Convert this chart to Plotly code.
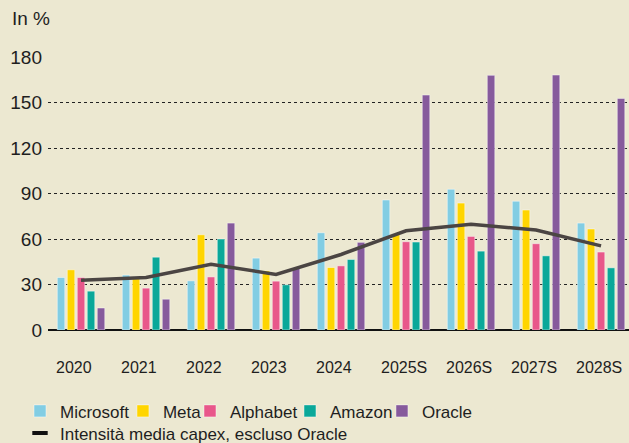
import plotly.graph_objects as go

categories = ["2020", "2021", "2022", "2023", "2024", "2025S", "2026S", "2027S", "2028S"]
microsoft = [34.6, 36.2, 32.4, 47.4, 64.1, 85.7, 92.8, 84.9, 70.5]
meta = [39.7, 33.8, 62.8, 39.0, 41.2, 63.0, 83.7, 79.1, 66.6]
alphabet = [34.6, 27.6, 35.0, 32.2, 42.3, 58.2, 61.7, 56.9, 51.4]
amazon = [25.6, 48.0, 60.0, 29.8, 46.5, 58.0, 52.0, 48.9, 41.0]
oracle = [14.5, 20.3, 70.5, 40.8, 57.8, 154.9, 167.9, 168.1, 152.7]
media_capex = [32.8, 34.6, 43.4, 36.6, 49.8, 65.4, 69.7, 65.9, 55.5]
y_ticks = [0, 30, 60, 90, 120, 150, 180]

series = [
    ("Microsoft", microsoft, "#82cde3"),
    ("Meta", meta, "#ffd500"),
    ("Alphabet", alphabet, "#e8578a"),
    ("Amazon", amazon, "#0aa899"),
    ("Oracle", oracle, "#865a9c"),
]
legend_ids = ["legend", "legend2", "legend3", "legend4", "legend5"]
legend_x = [-0.0482, 0.1290, 0.2444, 0.4165, 0.5748]

idx = list(range(len(categories)))
FONT = "Liberation Sans, Arial, sans-serif"
TXT = "#1e1e1e"
BG = "#ece8d1"

fig = go.Figure()
for (name, vals, col), lid in zip(series, legend_ids):
    fig.add_trace(go.Bar(
        x=idx, y=vals, name=name,
        marker=dict(color=col, line=dict(color="rgba(255,255,255,0.45)", width=1)),
        legend=lid,
    ))

fig.add_trace(go.Scatter(
    x=idx, y=media_capex, mode="lines",
    line=dict(color="#4b4543", width=3.5),
    name="Intensità media capex, escluso Oracle",
    showlegend=False,
))
# legend entry for the line (short thick dash like the reference)
fig.add_trace(go.Scatter(
    x=[None], y=[None], mode="markers",
    marker=dict(symbol="line-ew", size=11, line=dict(color="#111111", width=4)),
    name="Intensità media capex, escluso Oracle",
    legend="legend6",
))

leg_common = dict(
    orientation="h", xanchor="left", yanchor="top",
    font=dict(size=17, family=FONT, color=TXT),
    bgcolor="rgba(0,0,0,0)", itemwidth=30,
)
layout_legends = {}
for lid, lx in zip(legend_ids, legend_x):
    layout_legends[lid] = dict(leg_common, x=lx, y=-0.232)
layout_legends["legend6"] = dict(leg_common, x=-0.0482, y=-0.313)

fig.update_layout(
    width=629, height=443,
    margin=dict(l=48, r=0, t=57, b=113, autoexpand=False),
    paper_bgcolor=BG, plot_bgcolor=BG,
    barmode="group", bargap=0.231, bargroupgap=0.25,
    font=dict(family=FONT, color=TXT, size=17),
    showlegend=True,
    xaxis=dict(
        range=[-0.508, 8.43], automargin=False,
        tickvals=[i - 0.385 for i in idx], ticktext=categories,
        ticklabelposition="outside right",
        showgrid=False, zeroline=False, showline=False, ticks="",
        tickfont=dict(size=16, family=FONT, color=TXT),
        ticklabelstandoff=26,
    ),
    yaxis=dict(
        range=[0, 180], tickvals=y_ticks, automargin=False,
        showgrid=True, gridcolor="#222222", griddash="dot", gridwidth=1.3,
        zeroline=True, zerolinecolor="#111111", zerolinewidth=2,
        showline=False, ticks="",
        tickfont=dict(size=19, family=FONT, color=TXT),
        ticklabelstandoff=5,
    ),
    annotations=[dict(
        text="In %", xref="paper", yref="paper", x=-0.065, y=1.095,
        xanchor="left", yanchor="bottom", showarrow=False,
        font=dict(size=19, family=FONT, color=TXT),
    )],
    **layout_legends,
)

fig.write_html(
    "out.html",
    config={"displayModeBar": False},
    post_script="document.body.style.margin='0';document.body.style.background='" + BG + "';",
)
